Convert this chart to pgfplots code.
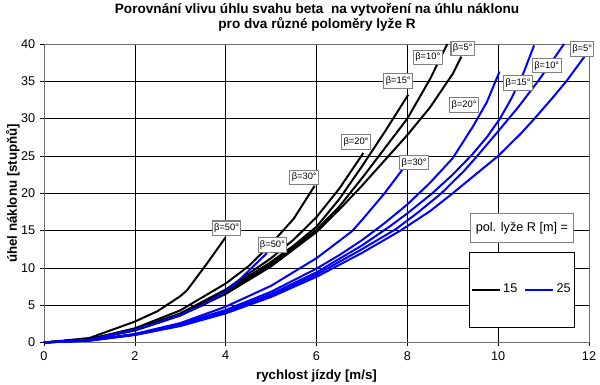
\documentclass[border=0pt]{standalone}
\usepackage{fontspec}
\setmainfont{Liberation Sans}
\usepackage{pgfplots}
\pgfplotsset{compat=1.18}
\definecolor{frame}{RGB}{110,110,110}
\definecolor{myblue}{RGB}{0,0,255}
\definecolor{boxgray}{RGB}{128,128,128}
\tikzset{lbl/.style={draw=boxgray, line width=0.8pt, fill=white, font=\fontsize{7}{8}\selectfont, inner sep=1.4pt, minimum height=11pt}}
\begin{document}
\begin{tikzpicture}[x=1pt,y=1pt]
\useasboundingbox (-33,-31.875) rectangle (417,256.875);
\begin{axis}[
  at={(0,0)}, anchor=south west,
  scale only axis, width=408.75pt, height=223.9pt,
  xmin=0, xmax=12, ymin=0, ymax=40,
  xtick={0,2,...,12}, ytick={0,5,...,40},
  xtick pos=left, ytick pos=left,
  tick align=outside, major tick length=3pt,
  tick style={black, line width=0.5pt},
  grid=major, major grid style={black, line width=0.5pt},
  axis line style={frame, line width=0.7pt},
  clip=false,
  /pgf/number format/assume math mode=true,
  ticklabel style={font=\fontsize{9.5}{11}\selectfont},
  xlabel={rychlost jízdy [m/s]},
  ylabel={úhel náklonu [stupňů]},
  xlabel style={font=\bfseries\fontsize{10}{12}\selectfont, at={(axis description cs:0.5,-0.112)}, anchor=center},
  ylabel style={font=\bfseries\fontsize{10}{12}\selectfont, at={(axis description cs:-0.0569,0.5)}, anchor=center},
  every axis title shift=0pt,
  title={Porovnání vlivu úhlu svahu beta\ \ na vytvoření na úhlu náklonu\\pro dva různé poloměry lyže R},
  title style={font=\bfseries\fontsize{10.2}{10.9}\selectfont, align=center, at={(axis description cs:0.501,1.090)}, anchor=center},
  legend columns=2,
  legend style={at={(0.877,0.1775)}, anchor=center, draw=black, fill=white, inner xsep=1pt, inner ysep=22pt,
    font=\fontsize{9.5}{11}\selectfont, /tikz/every even column/.append style={column sep=3pt}},
  legend image code/.code={\draw[#1, line width=1.5pt] (0pt,0pt) -- (21pt,0pt);},
]
\addlegendimage{black}
\addlegendentry{15}
\addlegendimage{myblue}
\addlegendentry{25}
% R = 15 (black)
\addplot[black, line width=1.5pt, forget plot] coordinates {(0,0)(1,0.4)(2,1.6)(3,3.6)(4,6.5)(5,10.2)(6,14.8)(6.5,17.8)(7,21.0)(7.5,24.4)(8,27.8)(8.5,31.5)(9,36.0)(9.19,38.3)};
\addplot[black, line width=1.5pt, forget plot] coordinates {(0,0)(1,0.4)(2,1.65)(3,3.7)(4,6.7)(5,10.5)(6,15.1)(6.5,18.2)(7,22.0)(7.5,26.0)(8,30.0)(8.5,35.3)(8.88,40)};
\addplot[black, line width=1.5pt, forget plot] coordinates {(0,0)(1,0.42)(2,1.7)(3,3.8)(4,6.9)(5,10.8)(5.5,13.0)(6,15.5)(6.5,19.2)(7,23.6)(7.5,28.2)(8.02,33.2)};
\addplot[black, line width=1.5pt, forget plot] coordinates {(0,0)(1,0.43)(2,1.75)(3,3.9)(4,7.1)(5,11.3)(5.5,13.8)(6,16.8)(6.5,20.6)(7,25.1)(7.03,25.4)};
\addplot[black, line width=1.5pt, forget plot] coordinates {(0,0)(1,0.45)(2,1.9)(3,4.3)(4,7.9)(4.5,10.2)(5,13.2)(5.5,16.6)(5.96,21.0)};
\addplot[black, line width=1.5pt, forget plot] coordinates {(0,0)(1,0.6)(2,2.8)(2.5,4.2)(3,6.2)(3.15,7.0)(3.59,10.6)(4.0,14.1)};
% R = 25 (blue)
\addplot[myblue, line width=1.5pt, forget plot] coordinates {(0,0)(1,0.25)(2,1.0)(3,2.2)(4,3.9)(5,6.1)(6,8.8)(7,12.0)(7.85,15.0)(8.5,17.6)(9,20.0)(9.5,22.5)(10,25.0)(10.5,28.0)(10.8,30.0)(11.2,32.8)(11.5,35.0)(11.9,38.3)};
\addplot[myblue, line width=1.5pt, forget plot] coordinates {(0,0)(1,0.26)(2,1.03)(3,2.3)(4,4.0)(5,6.3)(6,9.1)(7,12.5)(7.75,15.2)(8.25,17.5)(8.75,20.0)(9.25,23.0)(9.54,25.0)(10,28.3)(10.45,31.6)(10.9,35.2)(11.2,37.8)(11.45,40)};
\addplot[myblue, line width=1.5pt, forget plot] coordinates {(0,0)(1,0.27)(2,1.06)(3,2.4)(4,4.15)(5,6.5)(6,9.4)(7,13.0)(7.6,15.5)(8,17.3)(8.55,20.0)(9,22.5)(9.43,25.2)(9.75,27.5)(10.04,30.0)(10.3,32.8)(10.55,36.0)(10.79,39.8)};
\addplot[myblue, line width=1.5pt, forget plot] coordinates {(0,0)(1,0.28)(2,1.1)(3,2.5)(4,4.35)(5,6.8)(6,9.9)(6.5,11.7)(7,13.7)(7.5,16.0)(8,18.5)(8.5,21.4)(9,24.7)(9.45,29.0)(9.75,32.2)(10.03,36.3)};
\addplot[myblue, line width=1.5pt, forget plot] coordinates {(0,0)(1,0.3)(2,1.15)(3,2.6)(4,4.8)(5,7.6)(6,11.3)(6.5,13.6)(6.78,14.9)(7,16.4)(7.5,20.0)(7.92,23.4)};
\addplot[myblue, line width=1.5pt, forget plot] coordinates {(0,0)(1,0.38)(2,1.7)(2.58,2.8)(3,3.7)(3.5,5.0)(4,6.9)(4.32,8.5)(4.91,12.0)};
% labels
\node[lbl] at (axis cs:9.22,39.4) {β=5°};
\node[lbl] at (axis cs:8.45,38.2) {β=10°};
\node[lbl] at (axis cs:7.80,35.0) {β=15°};
\node[lbl] at (axis cs:6.87,26.9) {β=20°};
\node[lbl] at (axis cs:5.73,22.1) {β=30°};
\node[lbl] at (axis cs:4.02,15.3) {β=50°};
\node[lbl] at (axis cs:5.03,13.1) {β=50°};
\node[lbl] at (axis cs:8.15,24.1) {β=30°};
\node[lbl] at (axis cs:9.25,31.8) {β=20°};
\node[lbl] at (axis cs:10.44,34.8) {β=15°};
\node[lbl] at (axis cs:11.07,37.1) {β=10°};
\node[lbl] at (axis cs:11.85,39.3) {β=5°};
\node[draw=boxgray, line width=0.8pt, fill=white, minimum width=77.3pt, minimum height=22pt, font=\fontsize{9.5}{11}\selectfont] at (axis description cs:0.877,0.384) {pol. lyže R [m] =};
\end{axis}
\end{tikzpicture}
\end{document}
